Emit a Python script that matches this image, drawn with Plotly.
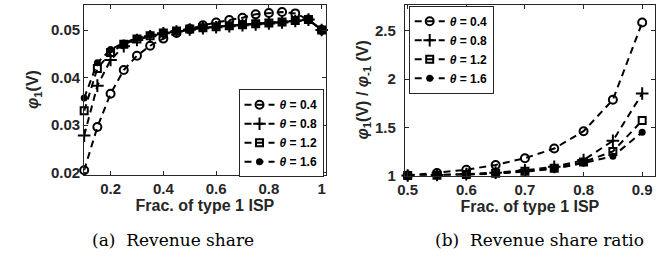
import plotly.graph_objects as go

# ---------------- data ----------------
x_left = [0.10, 0.15, 0.20, 0.25, 0.30, 0.35, 0.40, 0.45, 0.50, 0.55,
          0.60, 0.65, 0.70, 0.75, 0.80, 0.85, 0.90, 0.95, 1.00]
left_t04 = [0.0205, 0.0296, 0.0366, 0.0416, 0.0446, 0.0467, 0.0482, 0.0494, 0.0502, 0.0510,
            0.0516, 0.0521, 0.0526, 0.0533, 0.0536, 0.0538, 0.0535, 0.0522, 0.0500]
left_t08 = [0.0278, 0.0383, 0.0437, 0.0466, 0.0479, 0.0487, 0.0493, 0.0497, 0.0501, 0.0504,
            0.0506, 0.0508, 0.0510, 0.0512, 0.0514, 0.0516, 0.0519, 0.0522, 0.0500]
left_t12 = [0.0330, 0.0419, 0.0453, 0.0470, 0.0481, 0.0488, 0.0494, 0.0498, 0.0502, 0.0505,
            0.0507, 0.0509, 0.0511, 0.0513, 0.0515, 0.0517, 0.0520, 0.0522, 0.0500]
left_t16 = [0.0357, 0.0431, 0.0459, 0.0473, 0.0483, 0.0490, 0.0496, 0.0499, 0.0502, 0.0505,
            0.0507, 0.0509, 0.0511, 0.0513, 0.0515, 0.0517, 0.0520, 0.0522, 0.0500]

x_right = [0.50, 0.55, 0.60, 0.65, 0.70, 0.75, 0.80, 0.85, 0.90]
right_t04 = [1.0, 1.027, 1.06, 1.11, 1.18, 1.28, 1.46, 1.785, 2.586]
right_t08 = [1.0, 1.005, 1.015, 1.03, 1.055, 1.09, 1.16, 1.36, 1.85]
right_t12 = [1.0, 1.004, 1.010, 1.025, 1.045, 1.075, 1.14, 1.25, 1.57]
right_t16 = [1.0, 1.003, 1.008, 1.020, 1.040, 1.070, 1.13, 1.20, 1.45]

series_names = ["<i>θ</i> = 0.4", "<i>θ</i> = 0.8", "<i>θ</i> = 1.2", "<i>θ</i> = 1.6"]
left_ticks_y = [0.02, 0.03, 0.04, 0.05]
left_ticks_x = [0.2, 0.4, 0.6, 0.8, 1.0]
right_ticks_y = [1, 1.5, 2, 2.5]
right_ticks_x = [0.5, 0.6, 0.7, 0.8, 0.9]

# ---------------- styles ----------------
markers = [
    dict(symbol="circle-open", size=8, color="black", line=dict(width=2, color="black")),
    dict(symbol="cross-thin-open", size=9, color="black", line=dict(width=2, color="black")),
    dict(symbol="square-open", size=7, color="black", line=dict(width=2, color="black")),
    dict(symbol="circle", size=7, color="black", line=dict(width=0)),
]
line_style = dict(color="black", width=2, dash="7px,5px")

fig = go.Figure()
for name, ys, mk in zip(series_names, [left_t04, left_t08, left_t12, left_t16], markers):
    fig.add_trace(go.Scatter(x=x_left, y=ys, name=name, mode="lines+markers",
                             line=line_style, marker=mk, xaxis="x", yaxis="y",
                             legend="legend", cliponaxis=False))
for name, ys, mk in zip(series_names, [right_t04, right_t08, right_t12, right_t16], markers):
    fig.add_trace(go.Scatter(x=x_right, y=ys, name=name, mode="lines+markers",
                             line=line_style, marker=mk, xaxis="x2", yaxis="y2",
                             legend="legend2", cliponaxis=False))

W, H = 663, 265
tickfont = dict(family="Liberation Sans, Arial", size=15, color="#262626", weight="bold")
titlefont = dict(family="Liberation Sans, Arial", size=16, color="#262626", weight="bold")
axis_common = dict(showline=True, linecolor="#262626", linewidth=1, mirror="allticks",
                   ticks="inside", ticklen=4, tickcolor="#262626", showgrid=False,
                   zeroline=False, tickfont=tickfont)

legend_common = dict(font=dict(family="Liberation Sans, Arial", size=12, color="black", weight="bold"),
                     bgcolor="white", bordercolor="#262626", borderwidth=1,
                     xanchor="left", yanchor="top", itemwidth=30, tracegroupgap=0)

fig.update_layout(
    width=W, height=H, margin=dict(l=0, r=0, t=0, b=0),
    paper_bgcolor="white", plot_bgcolor="white", showlegend=True,
    xaxis=dict(domain=[78 / W, 322 / W], range=[0.1, 1.015], tickvals=left_ticks_x,
               ticktext=["0.2", "0.4", "0.6", "0.8", "1"], anchor="y",
               title=dict(text="Frac. of type 1 ISP", font=titlefont, standoff=2), **axis_common),
    yaxis=dict(domain=[1 - 180 / H, 1 - 5 / H], range=[0.0196, 0.0553], tickvals=left_ticks_y,
               ticktext=["0.02", "0.03", "0.04", "0.05"], anchor="x", **axis_common),
    xaxis2=dict(domain=[402 / W, 655 / W], range=[0.495, 0.922], tickvals=right_ticks_x,
                ticktext=["0.5", "0.6", "0.7", "0.8", "0.9"], anchor="y2",
                title=dict(text="Frac. of type 1 ISP", font=titlefont, standoff=2), **axis_common),
    yaxis2=dict(domain=[1 - 181 / H, 1 - 5 / H], range=[1.0, 2.77], tickvals=right_ticks_y,
                ticktext=["1", "1.5", "2", "2.5"], anchor="x2", ticklabelstandoff=5,
                **axis_common),
    legend=dict(x=234 / W, y=1 - 92 / H, **legend_common),
    legend2=dict(x=406 / W, y=1 - 6 / H, **legend_common),
)

# y-axis titles
fig.add_annotation(text="<i>φ</i><sub>1</sub>(V)", x=27 / W, y=1 - 92 / H, xref="paper", yref="paper",
                   showarrow=False, font=titlefont, textangle=-90, xanchor="center", yanchor="middle")
fig.add_annotation(text="<i>φ</i><sub>1</sub>(V) / <i>φ</i><sub>-1</sub> (V)", x=360 / W, y=1 - 93 / H,
                   xref="paper", yref="paper", showarrow=False, font=titlefont, textangle=-90,
                   xanchor="center", yanchor="middle")

capfont = dict(family="DejaVu Serif, serif", size=17, color="black")
fig.add_annotation(text="(a)  Revenue share", x=168 / W, y=1 - 247 / H, xref="paper", yref="paper",
                   showarrow=False, font=capfont, xanchor="center", yanchor="middle")
fig.add_annotation(text="(b)  Revenue share ratio", x=538 / W, y=1 - 247 / H, xref="paper", yref="paper",
                   showarrow=False, font=capfont, xanchor="center", yanchor="middle")

fig.write_html("out.html", config={"displayModeBar": False},
               post_script="document.body.style.margin='0';")
